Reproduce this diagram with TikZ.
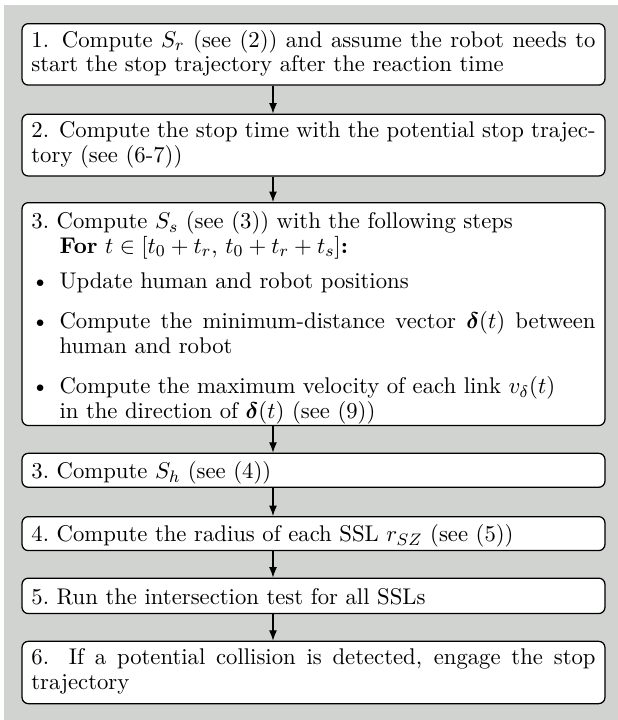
\documentclass[tikz,border=0pt]{standalone}
\usepackage{amsmath,bm}
\usepackage{enumitem}
\usetikzlibrary{arrows.meta}
\definecolor{panelgray}{RGB}{209,211,209}
\begin{document}
\begin{tikzpicture}[x=0.48pt,y=-0.48pt,
  stepbox/.style={draw, line width=0.6pt, rounded corners=3pt, fill=white,
    text width=270.8pt, inner xsep=4.5pt, inner ysep=0pt, align=justify,
    anchor=north, minimum width=279.8pt,
    font=\fontsize{10.9pt}{11.7pt}\selectfont},
  flow/.style={line width=0.5pt, -{Latex[length=5pt,width=3.8pt]}}]
\useasboundingbox (0,0) rectangle (618,720);
\fill[panelgray] (4,5) rectangle (618,720);
\coordinate (axis) at (273,0);

\node[stepbox, text height=11.4pt, text depth=18.1pt] (s1) at (313.5,23)
  {1. Compute $S_r$ (see (2)) and assume the robot needs to\linebreak
   start the stop trajectory after the reaction time};
\node[stepbox, text height=11.4pt, text depth=18.3pt] (s2) at (313.5,113.5)
  {2. Compute the stop time with the potential stop trajec-\linebreak
   tory (see (6-7))};
\node[stepbox, text height=12.6pt, text depth=94.4pt] (s3) at (313.5,202)
  {3.\ Compute $S_s$ (see (3)) with the following steps\\
   \hspace*{13.5pt}\textbf{For} $t\in[t_0+t_r,\,t_0+t_r+t_s]$\textbf{:}
   \begin{itemize}[leftmargin=13.5pt,topsep=5.1pt,itemsep=3.9pt,parsep=3.9pt,partopsep=0pt]
   \item Update human and robot positions
   \item Compute the minimum-distance vector $\bm{\delta}(t)$ between\linebreak
     human and robot
   \item Compute the maximum velocity of each link $v_\delta(t)$\\
     in the direction of $\bm{\delta}(t)$ (see (9))
   \end{itemize}};
\node[stepbox, text height=12pt, text depth=4.3pt] (s4) at (313.5,452.7)
  {3.\ Compute $S_h$ (see (4))};
\node[stepbox, text height=12pt, text depth=4.3pt] (s5) at (313.5,516)
  {4.\ Compute the radius of each SSL $r_{SZ}$ (see (5))};
\node[stepbox, text height=12.5pt, text depth=4.5pt] (s6) at (313.5,577.5)
  {5.\ Run the intersection test for all SSLs};
\node[stepbox, text height=11.3pt, text depth=18.6pt] (s7) at (313.5,640.7)
  {6. If a potential collision is detected, engage the stop\linebreak
   trajectory};

\foreach \a/\b in {s1/s2,s2/s3,s3/s4,s4/s5,s5/s6,s6/s7}
  \draw[flow] (\a.south -| axis) -- (\b.north -| axis);
\end{tikzpicture}
\end{document}
